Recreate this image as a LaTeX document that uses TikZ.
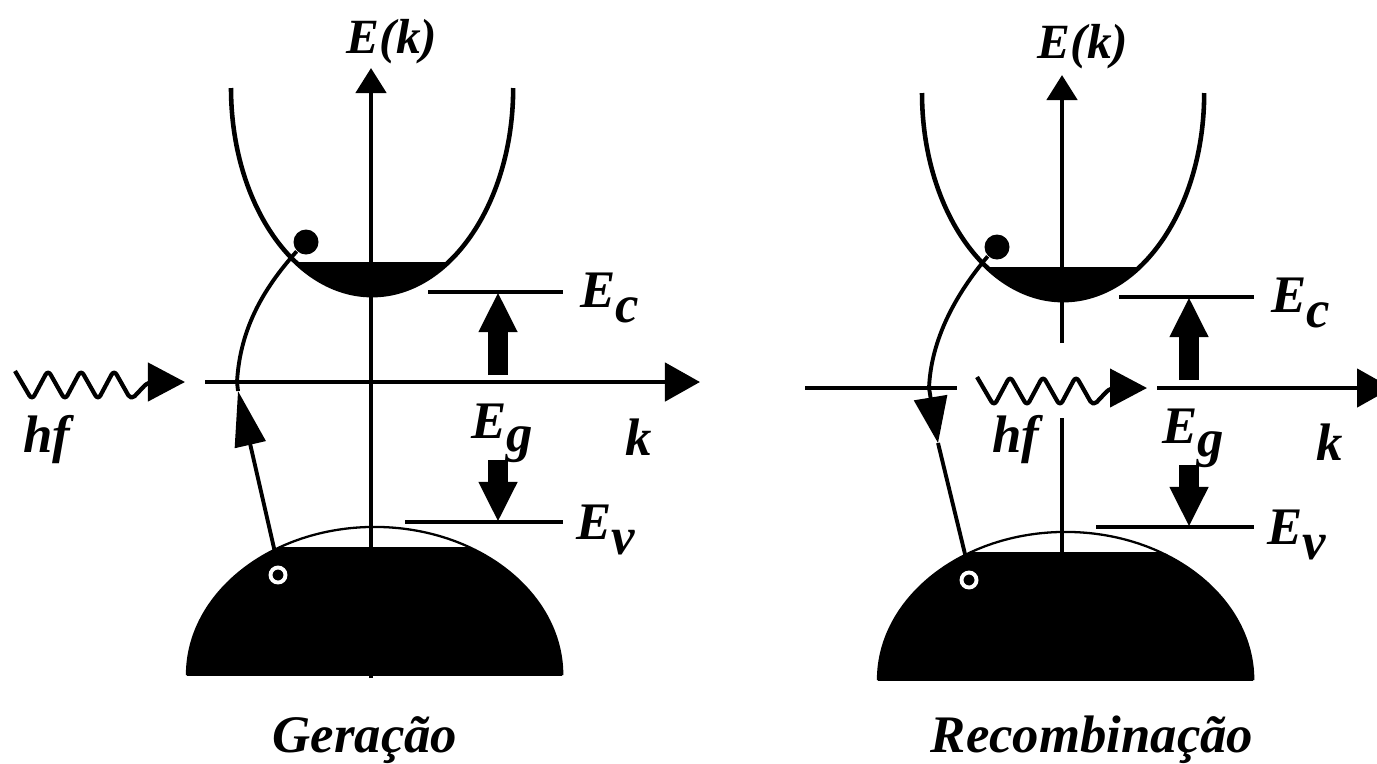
\documentclass[tikz,border=0pt]{standalone}
\usepackage{fontspec}
\setmainfont{Liberation Serif}
\usetikzlibrary{arrows.meta}

\tikzset{
  lbl/.style={font=\fontsize{15}{17}\selectfont\bfseries\itshape,inner sep=0pt},
  axlbl/.style={font=\fontsize{14}{16}\selectfont\bfseries\itshape,inner sep=0pt},
  ax/.style={line width=1.35pt},
  band/.style={line width=1.3pt},
  thinband/.style={line width=0.65pt},
  trans/.style={line width=1.1pt},
  photon/.style={line width=1.2pt,line join=round,rounded corners=1.5pt},
  gaparrow/.style={line width=5.6pt,-{Triangle[length=4mm,width=3.6mm]}},
  electron/.style={circle,fill=black,inner sep=0pt,minimum size=2.5mm},
  hole/.style={circle,fill=black,draw=white,line width=1.1pt,inner sep=0pt,minimum size=1.5mm}
}

\begin{document}
\begin{tikzpicture}[x=0.01cm,y=-0.01cm,>={Triangle[length=3.5mm,width=3.8mm]}]
\useasboundingbox (0,0) rectangle (1377,763);

% the two band diagrams (left: Geracao, right: Recombinacao)
\foreach \dx/\dy/\s in {0/0/L,691/5/R}{
  \begin{scope}[shift={(\dx,\dy)}]
    % conduction band
    \begin{scope}
      \clip (220,262) rectangle (525,310);
      \fill (372,88) ellipse [x radius=1.41cm,y radius=2.07cm];
    \end{scope}
    \draw[band] (231,88) arc[start angle=180,end angle=360,x radius=1.41cm,y radius=2.07cm];
    % valence band
    \draw[thinband] (187,675) arc[start angle=180,end angle=0,x radius=1.875cm,y radius=1.48cm];
    \begin{scope}
      \clip (180,547) rectangle (570,675);
      \fill (374.5,675) ellipse [x radius=1.875cm,y radius=1.48cm];
    \end{scope}
    % band edges and gap
    \coordinate (ecA\s) at (428,292);
    \coordinate (ecB\s) at (563,292);
    \coordinate (evA\s) at (405,522);
    \coordinate (evB\s) at (563,522);
    \coordinate (ec\s) at (498,292);
    \coordinate (ev\s) at (498,522);
    \coordinate (egup\s) at (498,375);
    \coordinate (egdn\s) at (498,460);
    \draw[ax] (ecA\s) -- (ecB\s);
    \draw[ax] (evA\s) -- (evB\s);
    \draw[gaparrow] (egup\s) -- (ec\s);
    \draw[gaparrow] (egdn\s) -- (ev\s);
    \node[axlbl] (ek\s) at (392,42) {E(k)};
    \node[lbl] (ecl\s) at (610,298) {E\raisebox{-.3em}{c}};
    \node[lbl] (evl\s) at (606,530) {E\raisebox{-.3em}{v}};
    \node[lbl] (egl\s) at (502,433) {E\raisebox{-.25em}{g}};
    \node[lbl] (kl\s) at (639,437) {k};
    % carriers
    \node[electron] (el\s) at (306,242) {};
    \node[hole] (ho\s) at (278,575) {};
  \end{scope}
}

% axes, left
\coordinate (kL0) at (205,382);
\coordinate (kL1) at (700,382);
\coordinate (eL0) at (371,678);
\coordinate (eL1) at (371,68);
\draw[ax,->] (kL0) -- (kL1);
\draw[ax,-{Triangle[length=2.5mm,width=3mm]}] (eL0) -- (eL1);

% axes, right (broken where the photon leaves)
\coordinate (kR0) at (805,388);
\coordinate (kR1) at (957,388);
\coordinate (kR2) at (1157,388);
\coordinate (kR3) at (1392,388);
\coordinate (eR0) at (1062,680);
\coordinate (eR1) at (1062,418);
\coordinate (eR2) at (1062,343);
\coordinate (eR3) at (1062,75);
\draw[ax] (kR0) -- (kR1);
\draw[ax,->] (kR2) -- (kR3);
\draw[ax] (eR0) -- (eR1);
\draw[ax,-{Triangle[length=2.5mm,width=3mm]}] (eR2) -- (eR3);

% generation: hole -> electron
\coordinate (tipL) at (238,391);
\coordinate (crL) at (237,382);
\draw[trans,shorten <=1.5pt,-{Triangle[length=5.5mm,width=3.1mm]}] (hoL.north) -- (tipL);
\draw[trans] (tipL) -- (crL) .. controls (240,330) and (262,290) .. (elL.225);

% recombination: electron -> hole
\coordinate (crR) at (929,388);
\coordinate (tipR) at (938,443);
\draw[trans] (elR.225) .. controls (955,295) and (931,340) .. (crR);
\draw[trans,-{Triangle[length=4.6mm,width=3.3mm]}] (crR) -- (tipR);
\draw[trans,shorten >=1.5pt] (tipR) -- (hoR.north);

% photons
\foreach \px/\py in {0/0,962/6}{
  \begin{scope}[shift={(\px,\py)}]
    \draw[photon,-{Triangle[length=3.7mm,width=3.8mm]}] (15,371) -- (32,400) -- (48,370) -- (65,400) -- (81,370)
      -- (98,400) -- (114,370) -- (131,400) -- (148,382) -- (185,382);
  \end{scope}
}
\node[lbl] (hfL) at (47,440) {hf};
\node[lbl] (hfR) at (1016,440) {hf};

\node[lbl] (gen) at (365,740) {Geração};
\node[lbl] (rec) at (1092,740) {Recombinação};
\end{tikzpicture}
\end{document}
